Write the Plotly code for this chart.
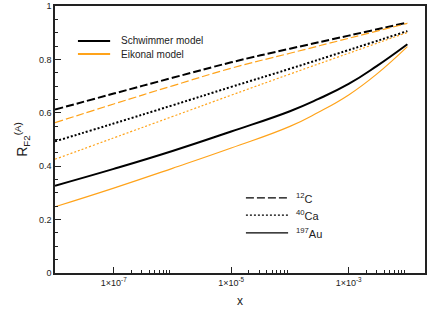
import plotly.graph_objects as go

# x grid (decades) and a finer one for the Au curves
x_grid = [1e-8, 1e-7, 1e-6, 1e-5, 1e-4, 1e-3, 1e-2]
x_au = [1e-8, 1e-7, 1e-6, 1e-5, 1e-4, 3e-4, 1e-3, 3e-3, 1e-2]

c12_schwimmer = [0.612, 0.672, 0.731, 0.789, 0.840, 0.889, 0.938]
c12_eikonal = [0.563, 0.633, 0.701, 0.767, 0.823, 0.879, 0.935]
ca40_schwimmer = [0.493, 0.560, 0.628, 0.697, 0.765, 0.835, 0.906]
ca40_eikonal = [0.426, 0.506, 0.586, 0.666, 0.745, 0.823, 0.901]
au197_schwimmer = [0.327, 0.390, 0.457, 0.530, 0.606, 0.651, 0.708, 0.775, 0.857]
au197_eikonal = [0.248, 0.318, 0.392, 0.468, 0.549, 0.601, 0.667, 0.745, 0.848]

x_tickvals = [1e-7, 1e-5, 1e-3]
x_ticktext = ["1×10<sup>-7</sup>", "1×10<sup>-5</sup>", "1×10<sup>-3</sup>"]
x_minor = [m * d for d in (1e-7, 1e-5, 1e-3) for m in range(2, 10)]
y_tickvals = [0, 0.2, 0.4, 0.6, 0.8, 1]
y_ticktext = ["0", "0.2", "0.4", "0.6", "0.8", "1"]

BLACK = "black"
ORANGE = "#FFA31A"
DASH = "8px,3px"
DOT = "2px,2px"

fig = go.Figure()

curves = [
    (x_grid, c12_schwimmer, BLACK, 2, DASH),
    (x_grid, c12_eikonal, ORANGE, 1.2, DASH),
    (x_grid, ca40_schwimmer, BLACK, 2, DOT),
    (x_grid, ca40_eikonal, ORANGE, 1.2, DOT),
    (x_au, au197_schwimmer, BLACK, 2, "solid"),
    (x_au, au197_eikonal, ORANGE, 1.2, "solid"),
]
for xs, ys, col, w, dash in curves:
    fig.add_trace(go.Scatter(x=xs, y=ys, mode="lines", showlegend=False,
                             line=dict(color=col, width=w, dash=dash,
                                       shape="spline", smoothing=1.3)))

# keys drawn by hand: plotly's legend spacing / sample length don't match
keys = [
    (0.062, 0.149, 0.172, 0.869, dict(color=BLACK, width=2), "Schwimmer model", 10),
    (0.062, 0.149, 0.172, 0.820, dict(color=ORANGE, width=2), "Eikonal model", 10),
    (0.516, 0.630, 0.645, 0.281, dict(color=BLACK, width=1.2, dash=DASH), "<sup>12</sup>C", 11),
    (0.516, 0.630, 0.645, 0.217, dict(color=BLACK, width=1.2, dash=DOT), "<sup>40</sup>Ca", 11),
    (0.516, 0.630, 0.645, 0.150, dict(color=BLACK, width=1.2), "<sup>197</sup>Au", 11),
]
for x0, x1, xt, yk, ln, label, fs in keys:
    fig.add_shape(type="line", xref="paper", yref="paper", x0=x0, x1=x1,
                  y0=yk, y1=yk, line=ln)
    fig.add_annotation(xref="paper", yref="paper", x=xt, y=yk, text=label,
                       showarrow=False, xanchor="left", yanchor="middle",
                       font=dict(size=fs, color="#222"))

font = "Liberation Sans, Arial, sans-serif"
fig.update_layout(
    width=432, height=329,
    margin=dict(l=55, r=7, t=6, b=56),
    plot_bgcolor="white", paper_bgcolor="white",
    font=dict(family=font, size=9, color="#222"),
    showlegend=False,
    xaxis=dict(type="log", range=[-8, -1.70], showgrid=False, zeroline=False,
               automargin=False,
               showline=True, linecolor="#222", linewidth=1.5, mirror=True,
               ticks="inside", ticklen=6, tickwidth=1.2, tickcolor="#222",
               tickvals=x_tickvals, ticktext=x_ticktext, tickfont=dict(size=9),
               minor=dict(tickvals=x_minor, ticks="inside", ticklen=3, tickcolor="#222"),
               title=dict(text="x", font=dict(size=12), standoff=10)),
    yaxis=dict(range=[0, 1], showgrid=False, zeroline=False,
               automargin=False,
               showline=True, linecolor="#222", linewidth=1.5, mirror=True,
               ticks="inside", ticklen=6, tickwidth=1.2, tickcolor="#222",
               tickvals=y_tickvals, ticktext=y_ticktext, tickfont=dict(size=9),
               minor=dict(dtick=0.05, ticks="inside", ticklen=3, tickcolor="#222"),
               title=dict(text="R<sub>F2</sub><sup>(A)</sup>", font=dict(size=14), standoff=8)),
)

# the page's default 8px body margin would shift the figure
fig.write_html("out.html", config={"displayModeBar": False},
               post_script="document.body.style.margin='0px';")
